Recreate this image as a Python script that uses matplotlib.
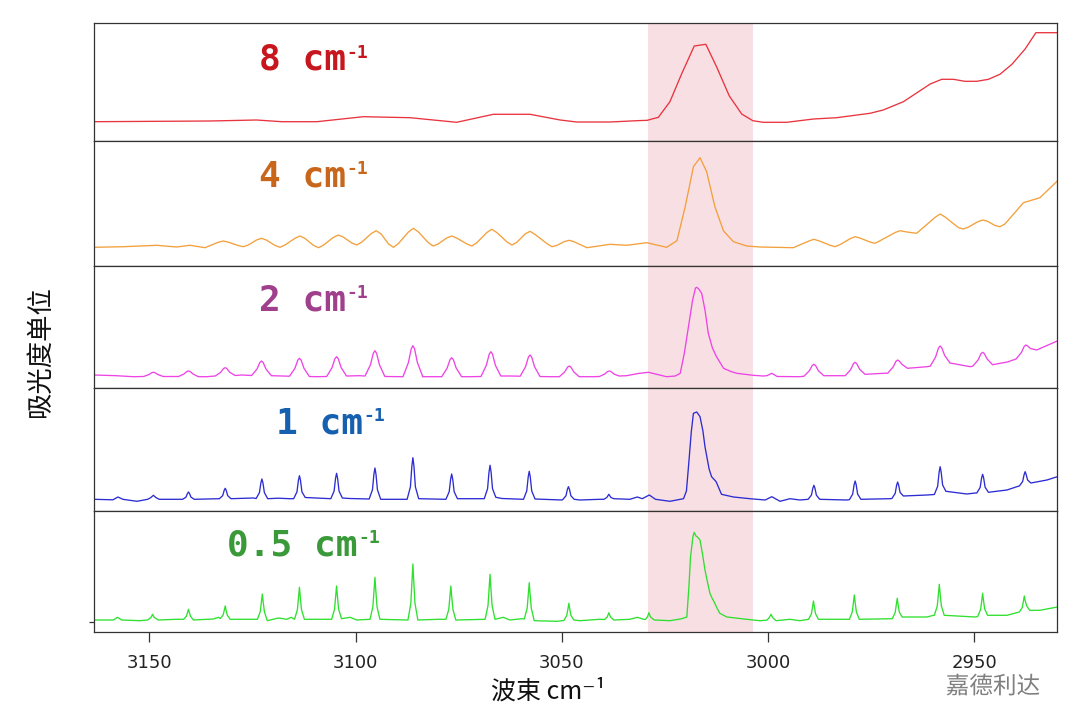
import matplotlib
matplotlib.use("Agg")
import matplotlib.pyplot as plt
import matplotlib.patheffects as pe

# ---------------- data (wavenumber in cm-1, absorbance in arbitrary units) ----------------
resolutions = ["8", "4", "2", "1", "0.5"]
unit_text = "cm"
unit_sup = "-1"

wn_8 = [3163.4, 3135.3, 3124.0, 3117.9, 3109.4, 3098.1, 3086.8, 3075.5, 3066.6, 3057.7,
        3050.4, 3046.4, 3038.3, 3031.8, 3029.3, 3026.6, 3023.8, 3020.9, 3017.9, 3015.1,
        3012.5, 3009.4, 3006.4, 3003.7, 3001.2, 2995.5, 2989.0, 2983.4, 2975.3, 2972.1,
        2967.2, 2960.7, 2957.9, 2955.1, 2952.3, 2949.4, 2946.6, 2943.8, 2940.9, 2937.7,
        2935.1, 2929.9]
ab_8 = [19.3, 20.0, 21.0, 19.3, 19.3, 24.3, 23.3, 18.7, 26.7, 26.7,
        21.0, 19.0, 19.0, 20.3, 20.7, 23.7, 39.3, 67.7, 95.0, 96.7,
        74.3, 45.0, 27.0, 20.3, 18.7, 18.7, 22.0, 23.3, 27.7, 31.0,
        39.3, 57.0, 61.7, 61.7, 59.7, 59.7, 61.7, 66.7, 76.7, 92.0,
        108.3, 108.3]

wn_4 = [3163.4, 3156.2, 3148.2, 3143.4, 3140.1, 3136.5, 3133.3, 3132.1, 3130.9, 3128.4,
        3127.2, 3126.0, 3124.0, 3122.8, 3121.6, 3119.5, 3118.3, 3117.1, 3114.7, 3113.5,
        3112.3, 3110.2, 3109.0, 3107.8, 3105.4, 3104.2, 3103.0, 3100.9, 3099.7, 3098.5,
        3096.2, 3095.0, 3093.8, 3092.0, 3090.8, 3089.6, 3087.2, 3086.0, 3084.8, 3082.4,
        3081.2, 3080.0, 3077.9, 3076.7, 3075.5, 3073.0, 3071.8, 3070.6, 3068.2, 3067.0,
        3065.8, 3063.3, 3062.1, 3060.9, 3058.9, 3057.7, 3056.5, 3053.6, 3052.4, 3051.2,
        3049.4, 3048.2, 3047.0, 3043.9, 3038.3, 3034.3, 3029.4, 3024.6, 3022.1, 3020.1,
        3018.1, 3016.5, 3014.9, 3012.9, 3010.8, 3008.4, 3005.2, 3002.0, 2993.9, 2990.1,
        2988.9, 2987.7, 2985.0, 2983.8, 2982.6, 2980.1, 2978.9, 2977.7, 2975.3, 2974.1,
        2972.9, 2969.2, 2968.0, 2966.8, 2964.0, 2959.5, 2958.3, 2957.1, 2953.9, 2952.7,
        2951.5, 2949.2, 2948.0, 2946.8, 2945.0, 2943.8, 2942.6, 2938.1, 2934.1, 2929.9]
ab_4 = [18.7, 19.3, 20.7, 19.0, 20.7, 18.3, 23.7, 25.0, 23.9, 20.4,
        19.3, 21.0, 26.0, 27.7, 25.9, 20.5, 18.7, 21.0, 27.7, 30.0,
        27.7, 20.6, 18.3, 20.8, 28.5, 31.0, 29.0, 23.0, 21.0, 23.9,
        32.4, 35.3, 32.0, 22.0, 18.7, 22.5, 33.9, 37.7, 34.2, 23.5,
        20.0, 22.0, 28.0, 30.0, 28.0, 22.0, 20.0, 23.3, 33.4, 36.7,
        33.6, 24.1, 21.0, 23.7, 32.0, 34.7, 31.6, 22.4, 19.3, 20.6,
        24.4, 25.7, 24.2, 18.3, 21.7, 20.7, 23.3, 18.7, 25.3, 59.3,
        99.3, 108.3, 94.3, 59.3, 35.0, 24.3, 20.0, 19.0, 18.3, 25.0,
        26.7, 25.2, 20.8, 19.3, 21.3, 27.3, 29.3, 27.9, 24.0, 22.7,
        25.2, 33.5, 35.3, 34.3, 32.7, 48.7, 52.0, 49.0, 38.5, 37.0,
        38.8, 44.2, 46.0, 44.7, 40.5, 39.3, 42.0, 63.3, 68.3, 85.0]

wn_2 = [3163.4, 3158.0, 3153.9,
        3151.4, 3150.1, 3149.4, 3149.0, 3148.6, 3147.9, 3146.6,
        3142.9, 3141.6, 3140.9, 3140.5, 3140.1, 3139.4, 3138.1, 3136.1,
        3134.0, 3132.7, 3132.0, 3131.6, 3131.2, 3130.5, 3129.2, 3127.6,
        3125.2, 3123.9, 3123.2, 3122.8, 3122.4, 3121.7, 3120.4,
        3116.0, 3114.7, 3114.0, 3113.6, 3113.2, 3112.5, 3111.2, 3109.4,
        3107.0, 3105.7, 3105.0, 3104.6, 3104.2, 3103.5, 3102.2, 3099.0,
        3097.7, 3096.4, 3095.7, 3095.3, 3094.9, 3094.2, 3092.9, 3090.0,
        3088.5, 3087.2, 3086.5, 3086.1, 3085.7, 3085.0, 3083.7, 3080.3,
        3079.1, 3077.8, 3077.1, 3076.7, 3076.3, 3075.6, 3074.3, 3072.2,
        3069.6, 3068.3, 3067.6, 3067.2, 3066.8, 3066.1, 3064.8, 3062.6,
        3060.1, 3058.8, 3058.1, 3057.7, 3057.3, 3056.6, 3055.3, 3052.9,
        3050.6, 3049.3, 3048.6, 3048.2, 3047.8, 3047.1, 3045.8, 3042.4,
        3040.9, 3039.6, 3038.9, 3038.5, 3038.1, 3037.4, 3036.1, 3034.3,
        3031.5, 3029.0, 3026.8, 3024.6, 3022.5, 3021.3,
        3020.3, 3019.3, 3018.3, 3017.6, 3017.3, 3016.8, 3016.1, 3015.3, 3014.5, 3013.5,
        3012.5, 3010.8, 3009.0, 3007.6, 3003.6, 3001.2,
        3000.3, 2999.1, 2997.8, 2992.3,
        2991.3, 2990.0, 2989.3, 2988.9, 2988.5, 2987.8, 2986.5, 2981.8,
        2981.3, 2980.0, 2979.3, 2978.9, 2978.5, 2977.8, 2976.5, 2972.0,
        2971.0, 2969.7, 2969.0, 2968.6, 2968.2, 2967.5, 2966.2, 2961.5,
        2960.7, 2959.4, 2958.7, 2958.3, 2957.9, 2957.2, 2955.9, 2951.0,
        2950.4, 2949.1, 2948.4, 2948.0, 2947.6, 2946.9, 2945.6, 2942.0,
        2939.9, 2938.6, 2937.9, 2937.5, 2937.1, 2936.4, 2934.9, 2929.9]
ab_2 = [13.0, 12.3, 11.3,
        11.5, 13.4, 15.3, 15.7, 15.3, 13.4, 11.5,
        11.5, 14.0, 16.5, 17.0, 16.5, 14.0, 11.3, 11.3,
        12.0, 15.7, 19.5, 20.3, 19.5, 15.7, 12.5, 13.0,
        12.5, 18.9, 25.5, 27.0, 25.5, 18.9, 12.3,
        11.8, 19.7, 27.9, 29.7, 27.9, 19.7, 11.5, 11.3,
        11.5, 20.4, 29.3, 31.3, 29.3, 20.4, 12.0, 12.3,
        12.0, 23.1, 34.7, 37.3, 34.7, 23.1, 11.5, 11.3,
        11.3, 25.3, 39.2, 42.3, 39.2, 25.3, 11.3, 11.3,
        11.3, 19.9, 28.4, 30.3, 28.4, 19.9, 11.3, 11.3,
        11.5, 22.7, 33.8, 36.3, 33.8, 22.7, 12.0, 12.0,
        11.8, 21.2, 30.9, 33.0, 30.9, 21.2, 11.5, 11.3,
        11.3, 16.1, 20.9, 22.0, 20.9, 16.1, 11.3, 11.3,
        11.5, 14.0, 16.5, 17.0, 16.5, 14.0, 12.0, 12.3,
        14.5, 15.7, 13.5, 11.3, 12.0, 14.7,
        35.0, 61.3, 88.0, 100.0, 100.7, 99.0, 94.7, 78.0, 54.7, 40.0,
        31.3, 19.7, 16.5, 14.7, 12.7, 12.0,
        12.3, 14.7, 11.5, 11.3,
        11.8, 17.2, 22.5, 23.7, 22.5, 17.2, 12.3, 12.3,
        12.3, 18.3, 24.4, 25.7, 24.2, 18.7, 13.7, 14.7,
        14.8, 21.0, 26.7, 28.0, 26.9, 23.5, 19.7, 21.3,
        21.8, 31.0, 40.0, 42.0, 40.2, 32.5, 25.0, 21.3,
        21.8, 28.0, 34.3, 35.7, 34.4, 29.0, 23.3, 26.0,
        29.0, 35.5, 41.8, 43.0, 42.0, 39.5, 38.0, 47.0]

wn_1 = [3163.4, 3158.8, 3157.6, 3156.4, 3153.0,
        3150.4, 3149.6, 3149.0, 3148.4, 3147.6, 3145.0,
        3141.9, 3141.1, 3140.75, 3140.5, 3140.25, 3139.9, 3139.1, 3133.7,
        3133.0, 3132.2, 3131.85, 3131.6, 3131.35, 3131.0, 3130.2, 3124.8,
        3124.1, 3123.3, 3122.95, 3122.7, 3122.45, 3122.1, 3121.3, 3118.7, 3116.0,
        3115.0, 3114.2, 3113.85, 3113.6, 3113.35, 3113.0, 3112.2, 3106.2,
        3106.0, 3105.2, 3104.85, 3104.6, 3104.35, 3104.0, 3103.2, 3101.5, 3097.0,
        3096.7, 3095.9, 3095.55, 3095.3, 3095.05, 3094.7, 3093.9, 3087.6,
        3087.5, 3086.7, 3086.35, 3086.1, 3085.85, 3085.5, 3084.7, 3078.3,
        3078.1, 3077.3, 3076.95, 3076.7, 3076.45, 3076.1, 3075.3, 3069.0,
        3068.8, 3068.0, 3067.65, 3067.4, 3067.15, 3066.8, 3066.0, 3064.5, 3059.3,
        3058.5, 3058.15, 3057.9, 3057.65, 3057.3, 3056.5, 3050.0,
        3049.8, 3049.0, 3048.65, 3048.4, 3048.15, 3047.8, 3047.0, 3045.6, 3040.8,
        3039.8, 3039.1, 3038.6, 3038.1, 3037.4, 3033.5, 3031.7, 3030.5, 3028.8,
        3027.3, 3023.8, 3020.5,
        3019.8, 3019.3, 3018.6, 3018.1, 3017.3, 3016.5, 3015.8, 3015.3, 3014.3, 3013.7,
        3012.6, 3011.3, 3008.4, 3004.4, 3000.7,
        2999.1, 2997.1, 2994.7, 2992.3, 2990.3,
        2989.5, 2989.15, 2988.9, 2988.65, 2988.3, 2987.5, 2981.0,
        2980.3, 2979.5, 2979.15, 2978.9, 2978.65, 2978.3, 2977.5, 2970.4,
        2970.0, 2969.2, 2968.85, 2968.6, 2968.35, 2968.0, 2967.2, 2961.5,
        2959.7, 2958.9, 2958.55, 2958.3, 2958.05, 2957.7, 2956.9, 2951.8, 2949.8,
        2949.4, 2948.6, 2948.25, 2948.0, 2947.75, 2947.4, 2946.6, 2942.1, 2939.7,
        2939.1, 2938.3, 2937.95, 2937.7, 2937.45, 2937.1, 2936.3, 2932.4, 2929.9]
ab_1 = [11.7, 11.2, 14.0, 11.7, 9.7,
        11.7, 13.5, 15.7, 13.5, 11.7, 11.7,
        11.7, 13.9, 17.5, 19.0, 17.5, 13.9, 11.7, 12.3,
        12.3, 15.4, 20.6, 22.7, 20.6, 15.4, 12.3, 13.0,
        12.5, 18.4, 28.1, 32.0, 28.1, 18.4, 12.3, 12.8, 12.3,
        12.3, 19.2, 30.7, 35.3, 30.7, 19.2, 13.5, 12.3,
        12.3, 19.9, 32.6, 37.7, 32.6, 19.9, 13.0, 12.5, 12.0,
        12.0, 21.3, 36.8, 43.0, 36.8, 21.3, 11.7, 11.7,
        11.7, 24.2, 45.0, 53.3, 45.0, 24.2, 12.3, 11.7,
        11.7, 19.3, 31.9, 37.0, 31.9, 19.3, 12.3, 12.3,
        12.3, 22.3, 39.0, 45.7, 39.0, 22.3, 13.7, 12.5, 11.7,
        20.1, 34.1, 39.7, 34.1, 20.1, 12.0, 11.0,
        11.3, 15.2, 21.7, 24.3, 21.7, 15.2, 11.7, 11.0, 11.7,
        11.7, 13.5, 16.7, 13.5, 12.3, 11.7, 14.0, 12.3, 16.0,
        11.7, 9.7, 12.3,
        20.0, 44.3, 80.0, 97.7, 99.0, 94.3, 80.0, 64.3, 42.0, 34.3,
        29.3, 16.7, 14.0, 12.3, 11.0,
        14.3, 9.7, 12.3, 11.0, 11.7,
        15.9, 22.9, 25.7, 22.9, 15.9, 11.7, 11.0,
        11.3, 16.9, 26.3, 30.0, 26.3, 16.9, 11.7, 12.3,
        12.5, 17.5, 25.7, 29.0, 25.7, 18.5, 15.0, 16.0,
        16.5, 24.8, 38.7, 44.3, 38.9, 26.0, 19.7, 17.0, 18.0,
        18.0, 23.6, 33.0, 36.7, 33.0, 23.8, 18.7, 21.0, 24.3,
        25.0, 29.5, 36.3, 39.3, 36.5, 31.0, 28.0, 31.0, 34.3]

wn_05 = [3163.4, 3159.5, 3158.7, 3157.7, 3156.7, 3152.3,
         3150.4, 3149.6, 3149.2, 3148.8, 3147.8, 3143.4,
         3141.7, 3141.0, 3140.7, 3140.5, 3140.3, 3140.0, 3139.3, 3134.5, 3133.2,
         3132.8, 3132.1, 3131.8, 3131.6, 3131.4, 3131.1, 3130.4, 3124.4,
         3123.8, 3123.1, 3122.8, 3122.6, 3122.4, 3122.1, 3121.4, 3118.7, 3116.7, 3115.6,
         3114.8, 3114.1, 3113.8, 3113.6, 3113.4, 3113.1, 3112.4, 3106.2,
         3105.8, 3105.1, 3104.8, 3104.6, 3104.4, 3104.1, 3103.4, 3101.3, 3099.7, 3096.9,
         3096.5, 3095.8, 3095.5, 3095.3, 3095.1, 3094.8, 3094.1, 3087.6,
         3087.3, 3086.6, 3086.3, 3086.1, 3085.9, 3085.6, 3084.9, 3079.9,
         3078.1, 3077.4, 3077.1, 3076.9, 3076.7, 3076.4, 3075.7, 3069.0,
         3068.6, 3067.9, 3067.6, 3067.4, 3067.2, 3066.9, 3066.2, 3064.2, 3062.6, 3059.7,
         3059.1, 3058.4, 3058.1, 3057.9, 3057.7, 3057.4, 3056.7, 3051.2,
         3049.5, 3048.8, 3048.5, 3048.3, 3048.1, 3047.8, 3047.1, 3045.6, 3040.8,
         3039.6, 3039.0, 3038.6, 3038.2, 3037.4, 3033.5, 3031.7, 3030.2,
         3029.7, 3029.2, 3028.9, 3028.5, 3027.6, 3023.8, 3020.9, 3019.7,
         3019.2, 3018.8, 3018.2, 3017.9, 3017.5, 3017.2, 3016.5, 3015.9, 3015.3, 3014.6,
         3014.1, 3013.6, 3013.1, 3012.4, 3011.7, 3010.0, 3005.2, 3002.0,
         3000.3, 2999.7, 2999.3, 2998.9, 2998.1, 2994.7, 2992.3, 2990.3,
         2990.2, 2989.5, 2989.2, 2989.0, 2988.8, 2988.5, 2987.8, 2980.9,
         2980.3, 2979.6, 2979.3, 2979.1, 2978.9, 2978.6, 2977.9, 2970.4,
         2969.9, 2969.2, 2968.9, 2968.7, 2968.5, 2968.2, 2967.5, 2961.5, 2959.9,
         2959.7, 2959.0, 2958.7, 2958.5, 2958.3, 2958.0, 2957.3, 2949.8,
         2949.2, 2948.5, 2948.2, 2948.0, 2947.8, 2947.5, 2946.8, 2942.1, 2939.7,
         2939.1, 2938.4, 2938.1, 2937.9, 2937.7, 2937.3, 2936.6, 2934.1, 2929.9]
ab_05 = [12.0, 12.0, 12.0, 14.7, 12.0, 11.3,
         12.0, 14.5, 17.7, 14.5, 12.0, 12.7,
         12.7, 15.7, 19.7, 22.7, 19.7, 15.7, 12.0, 13.0, 14.7,
         13.5, 17.0, 22.1, 26.0, 22.1, 16.9, 12.7, 12.7,
         12.7, 20.3, 30.4, 38.0, 30.4, 20.3, 11.3, 14.0, 12.7, 14.7,
         12.7, 22.3, 35.1, 44.7, 35.1, 22.3, 12.7, 12.7,
         12.7, 22.7, 36.0, 46.0, 36.0, 22.7, 13.3, 14.7, 12.0, 12.7,
         12.7, 25.3, 42.1, 54.7, 42.1, 25.3, 12.7, 12.0,
         12.0, 28.8, 51.2, 68.0, 51.2, 28.8, 12.0, 12.7,
         12.7, 22.7, 36.0, 46.0, 36.0, 22.7, 12.0, 12.7,
         12.7, 26.2, 44.2, 57.7, 44.2, 26.2, 12.7, 14.7, 12.0, 13.3,
         13.0, 23.9, 38.4, 49.3, 38.4, 23.9, 11.3, 10.7,
         11.5, 16.7, 23.5, 28.7, 23.5, 16.7, 12.0, 11.3, 12.7,
         12.5, 15.0, 19.3, 15.0, 12.0, 12.7, 14.7, 12.7,
         12.7, 15.5, 19.3, 15.0, 12.0, 11.3, 13.3, 15.0,
         45.0, 75.3, 96.0, 99.7, 96.0, 95.3, 92.0, 78.0, 62.0, 48.0,
         38.7, 34.0, 30.3, 24.0, 18.7, 15.0, 12.7, 11.3,
         11.8, 14.5, 17.7, 14.5, 11.3, 12.7, 11.3, 12.7,
         12.7, 18.2, 25.5, 31.0, 25.5, 18.2, 12.7, 12.7,
         12.7, 20.0, 29.7, 37.0, 29.7, 20.0, 12.7, 13.3,
         13.3, 19.4, 27.6, 33.7, 27.8, 20.0, 15.0, 15.0, 16.7,
         16.7, 26.0, 38.4, 47.7, 38.4, 26.0, 16.7, 15.0,
         15.5, 22.4, 31.6, 38.7, 31.8, 23.0, 16.7, 16.7, 19.3,
         20.0, 24.5, 31.0, 36.0, 31.5, 26.0, 21.7, 21.7, 25.0]

series_wn = [wn_8, wn_4, wn_2, wn_1, wn_05]
series_ab = [ab_8, ab_4, ab_2, ab_1, ab_05]

x_ticks = [3150, 3100, 3050, 3000, 2950]
x_range = (3163.4, 2929.9)
highlight = (3029.0, 3003.7)
x_label = "波束 cm⁻¹"
y_label = "吸光度单位"
watermark = "嘉德利达"

# ---------------- styling ----------------
line_colors = ["#e8343e", "#f3a03c", "#ee44e6", "#2c2cd2", "#2fe02f"]
label_colors = ["#c8161e", "#c8661c", "#a0408c", "#1660b0", "#3a9a3a"]
panel_heights = [118, 125, 122, 123, 121]
label_x = [0.1713, 0.1713, 0.1713, 0.189, 0.138]
label_y = [0.602, 0.634, 0.639, 0.632, 0.636]

cjk = ["Noto Sans CJK SC", "DejaVu Sans"]

fig = plt.figure(figsize=(10.8, 7.19), dpi=100)
W, H = 1080, 719
gs = fig.add_gridspec(5, 1, height_ratios=panel_heights, hspace=0,
                      left=94 / W, right=1057.3 / W, top=1 - 23 / H, bottom=1 - 632 / H)

axes = []
for i in range(5):
    ax = fig.add_subplot(gs[i, 0])
    axes.append(ax)
    ax.axvspan(highlight[0], highlight[1], color="#f8dfe3", zorder=0, lw=0)
    ax.plot(series_wn[i], series_ab[i], color=line_colors[i], lw=0.95, zorder=2)
    ax.set_xlim(*x_range)
    ax.set_ylim(0, panel_heights[i])
    for s in ax.spines.values():
        s.set_color("#333333")
        s.set_linewidth(0.9)
    t = ax.text(label_x[i], label_y[i], f"{resolutions[i]} {unit_text}", transform=ax.transAxes,
                ha="left", va="baseline", fontsize=26,
                family="DejaVu Sans Mono", fontweight="bold", color=label_colors[i])
    ax.annotate(unit_sup, xy=(1, 1), xycoords=t, xytext=(0.5, -0.5), textcoords="offset points",
                ha="left", va="top", fontsize=13, family="DejaVu Sans Mono",
                fontweight="bold", color=label_colors[i])
    if i < 4:
        ax.set_xticks([])
        ax.set_yticks([])

bax = axes[-1]
bax.set_xticks(x_ticks)
bax.set_xticklabels([str(v) for v in x_ticks])
bax.set_yticks([10.3])
bax.set_yticklabels([""])
bax.tick_params(axis="x", direction="out", length=7.2, width=0.9, color="#333333",
                labelsize=13, pad=9, labelcolor="#222222")
bax.tick_params(axis="y", direction="out", length=3.5, width=0.9, color="#333333")

fig.text(548 / W, 1 - 691.5 / H, x_label, ha="center", va="center",
         fontsize=18, family=cjk, color="#111111")
fig.text(40 / W, 1 - 351 / H, y_label, ha="center", va="center", rotation=90,
         fontsize=19, family=cjk, color="#111111")
fig.text(993 / W, 1 - 687 / H, watermark, ha="center", va="center",
         fontsize=17, family=cjk, color="#808080",
         path_effects=[pe.withStroke(linewidth=2, foreground="white")])

fig.savefig("out.png", dpi=100, facecolor="white")
